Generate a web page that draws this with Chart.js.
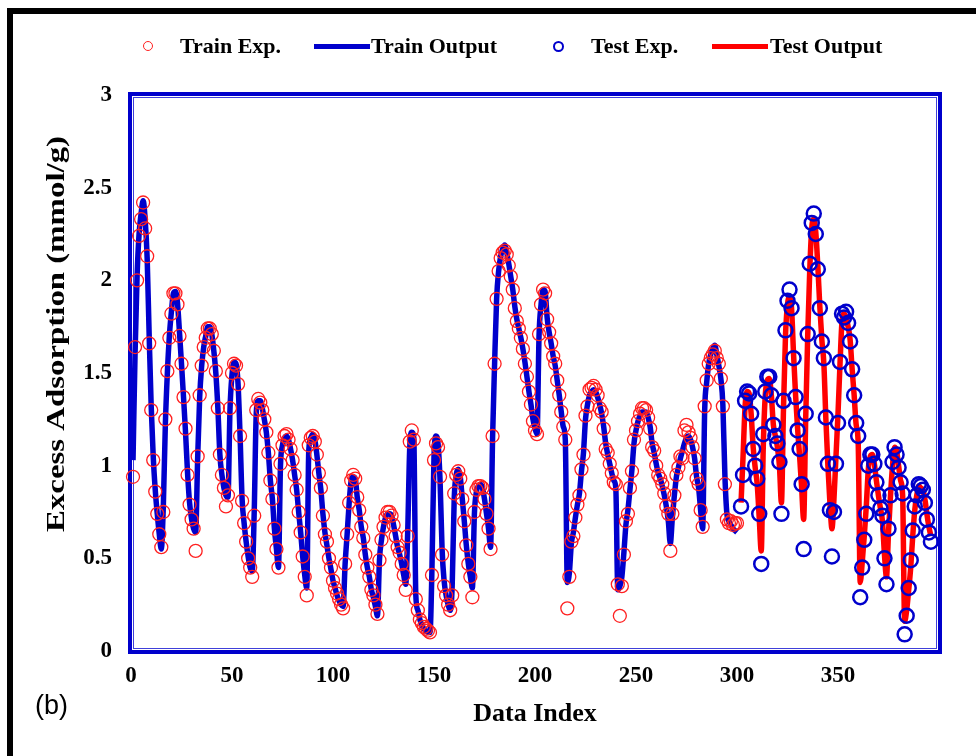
<!DOCTYPE html>
<html>
<head>
<meta charset="utf-8">
<title>Excess Adsorption vs Data Index</title>
<script src="https://cdn.jsdelivr.net/npm/chart.js@4.4.1/dist/chart.umd.min.js"></script>
<style>
  html, body { margin: 0; padding: 0; background: #fff; }
  #wrap { position: relative; width: 976px; height: 756px; overflow: hidden; }
  #chart { position: absolute; left: 0; top: 0; }
  #frame {
    position: absolute; left: 7px; top: 8px; width: 1000px; height: 800px;
    border-left: 6px solid #000; border-top: 6px solid #000; pointer-events: none;
  }
  .legend-text {
    position: absolute; top: 33px; line-height: 26px; white-space: nowrap;
    font: bold 22px "Liberation Serif", "Times New Roman", serif; color: #000;
  }
  .legend-dot { position: absolute; border-radius: 50%; box-sizing: border-box; }
  .legend-bar { position: absolute; height: 5px; }
  #panel {
    position: absolute; left: 35px; top: 690px; line-height: 32px;
    font: 27px "Liberation Sans", Arial, sans-serif; color: #000;
  }
</style>
</head>
<body>
<div id="wrap">
  <canvas id="chart" width="976" height="756"></canvas>
  <div id="frame"></div>

  <span class="legend-dot" style="left:143px; top:41px; width:10px; height:10px; border:1.5px solid #ff2020;"></span>
  <span class="legend-text" style="left:180px;">Train Exp.</span>
  <span class="legend-bar" style="left:314px; top:44px; width:56px; background:#0000cc;"></span>
  <span class="legend-text" style="left:371px;">Train Output</span>
  <span class="legend-dot" style="left:553px; top:41px; width:11px; height:11px; border:2.5px solid #0000cc;"></span>
  <span class="legend-text" style="left:591px;">Test Exp.</span>
  <span class="legend-bar" style="left:712px; top:44px; width:56px; background:#ff0000;"></span>
  <span class="legend-text" style="left:770px;">Test Output</span>

  <div id="panel">(b)</div>
</div>

<script>
// axis ticks
const xTicks = [0, 50, 100, 150, 200, 250, 300, 350];
const yTicks = [0, 0.5, 1, 1.5, 2, 2.5, 3];
const yTitle = 'Excess Adsorption (mmol/g)';

// training set: first data index and measured / model values
const trainStart = 1;
const trainExp = [
  0.94, 1.64, 2.00, 2.24, 2.33, 2.42, 2.28, 2.13, 1.66, 1.30, 1.03, 0.86, 0.74, 0.63, 0.56,
  0.75, 1.25, 1.51, 1.69, 1.82, 1.93, 1.93, 1.87, 1.70, 1.55, 1.37, 1.20, 0.95, 0.79, 0.71, 0.66, 0.54,
  1.05, 1.38, 1.54, 1.64, 1.69, 1.74, 1.74, 1.71, 1.62, 1.51, 1.31, 1.06, 0.95, 0.88, 0.78, 0.84,
  1.31, 1.50, 1.55, 1.54, 1.44, 1.16, 0.81, 0.69, 0.59, 0.50, 0.45, 0.40,
  0.73, 1.30, 1.36, 1.34, 1.30, 1.25, 1.18, 1.07, 0.92, 0.82, 0.66, 0.55, 0.45,
  1.01, 1.11, 1.16, 1.17, 1.14, 1.09, 1.03, 0.95, 0.87, 0.75, 0.64, 0.51, 0.40, 0.30,
  1.11, 1.15, 1.16, 1.13, 1.06, 0.96, 0.88, 0.73, 0.63, 0.59, 0.50, 0.45, 0.38, 0.34, 0.31, 0.28, 0.25, 0.23,
  0.47, 0.63, 0.80, 0.92, 0.95, 0.93, 0.83, 0.76, 0.67, 0.61, 0.52, 0.45, 0.40, 0.33, 0.30, 0.25, 0.20,
  0.49, 0.60, 0.67, 0.72, 0.75, 0.75, 0.73, 0.68, 0.62, 0.56, 0.53, 0.47, 0.41, 0.33,
  0.62, 1.13, 1.19, 1.14, 0.28, 0.22, 0.17, 0.15, 0.13, 0.12, 0.11, 0.10,
  0.41, 1.03, 1.12, 1.10, 0.94, 0.52, 0.35, 0.30, 0.25, 0.22,
  0.30, 0.85, 0.95, 0.97, 0.93, 0.82, 0.70, 0.57, 0.47, 0.40, 0.29,
  0.75, 0.87, 0.89, 0.89, 0.88, 0.82, 0.74, 0.66, 0.55,
  1.16, 1.55, 1.90, 2.05, 2.12, 2.15, 2.16, 2.14, 2.08, 2.02, 1.95, 1.85, 1.78, 1.74, 1.69, 1.63,
  1.55, 1.48, 1.40, 1.33, 1.24, 1.19, 1.17,
  1.71, 1.87, 1.95, 1.93, 1.79, 1.72, 1.66, 1.59, 1.55, 1.46, 1.38, 1.29, 1.21, 1.14, 0.23, 0.40,
  0.59, 0.62, 0.72, 0.79, 0.84, 0.98, 1.06, 1.27, 1.32, 1.41, 1.42, 1.43, 1.41, 1.38, 1.31, 1.29,
  1.20, 1.09, 1.07, 1.01, 0.96, 0.91, 0.90, 0.36, 0.19,
  0.35, 0.52, 0.70, 0.74, 0.88, 0.97, 1.14, 1.19, 1.24, 1.28, 1.31, 1.31, 1.30, 1.26, 1.20, 1.10,
  1.08, 1.00, 0.95, 0.93, 0.90, 0.85, 0.78, 0.74, 0.54,
  0.74, 0.84, 0.95, 0.99, 1.05, 1.04, 1.19, 1.22, 1.18, 1.15, 1.10, 1.04, 0.93, 0.90, 0.76, 0.67,
  1.32, 1.46, 1.55, 1.58, 1.60, 1.62, 1.58, 1.55, 1.47, 1.32, 0.90, 0.71, 0.69, 0.70, 0.68, 0.69, 0.69
];
const trainOut = [
  1.03, 1.60, 2.02, 2.25, 2.36, 2.43, 2.33, 2.12, 1.70, 1.32, 1.05, 0.87, 0.74, 0.63, 0.55,
  0.78, 1.22, 1.50, 1.70, 1.83, 1.93, 1.94, 1.88, 1.72, 1.55, 1.37, 1.18, 0.96, 0.80, 0.71, 0.66, 0.64,
  1.04, 1.37, 1.54, 1.64, 1.70, 1.75, 1.75, 1.71, 1.62, 1.50, 1.31, 1.06, 0.95, 0.88, 0.84, 0.83,
  1.30, 1.49, 1.56, 1.55, 1.44, 1.16, 0.82, 0.69, 0.59, 0.51, 0.45, 0.43,
  0.75, 1.28, 1.35, 1.35, 1.31, 1.25, 1.18, 1.07, 0.92, 0.82, 0.66, 0.55, 0.45,
  1.00, 1.11, 1.15, 1.16, 1.14, 1.09, 1.03, 0.95, 0.87, 0.75, 0.64, 0.51, 0.41, 0.34,
  1.08, 1.15, 1.17, 1.14, 1.06, 0.96, 0.87, 0.74, 0.64, 0.57, 0.50, 0.44, 0.38, 0.34, 0.30, 0.27, 0.25, 0.24,
  0.47, 0.63, 0.80, 0.92, 0.94, 0.93, 0.83, 0.76, 0.67, 0.61, 0.52, 0.45, 0.40, 0.33, 0.29, 0.24, 0.19,
  0.49, 0.60, 0.67, 0.72, 0.74, 0.74, 0.73, 0.68, 0.62, 0.56, 0.52, 0.47, 0.41, 0.36,
  0.65, 1.10, 1.18, 1.15, 0.30, 0.22, 0.17, 0.14, 0.12, 0.11, 0.10, 0.10,
  0.45, 1.05, 1.16, 1.12, 0.92, 0.55, 0.38, 0.30, 0.25, 0.22,
  0.35, 0.82, 0.95, 0.98, 0.94, 0.82, 0.70, 0.57, 0.47, 0.40, 0.34,
  0.74, 0.86, 0.89, 0.90, 0.88, 0.82, 0.74, 0.66, 0.56,
  1.15, 1.55, 1.90, 2.05, 2.13, 2.17, 2.19, 2.15, 2.09, 2.02, 1.95, 1.86, 1.79, 1.74, 1.69, 1.63,
  1.56, 1.48, 1.40, 1.33, 1.25, 1.20, 1.17,
  1.70, 1.87, 1.95, 1.94, 1.80, 1.72, 1.66, 1.59, 1.54, 1.46, 1.38, 1.29, 1.21, 1.14, 0.37, 0.42,
  0.58, 0.64, 0.72, 0.79, 0.85, 0.97, 1.07, 1.25, 1.33, 1.38, 1.40, 1.41, 1.40, 1.37, 1.33, 1.28,
  1.21, 1.12, 1.06, 1.01, 0.96, 0.92, 0.88, 0.33, 0.35,
  0.40, 0.53, 0.68, 0.76, 0.87, 0.98, 1.12, 1.19, 1.24, 1.27, 1.29, 1.29, 1.29, 1.26, 1.21, 1.12,
  1.07, 1.01, 0.96, 0.93, 0.89, 0.84, 0.78, 0.70, 0.58,
  0.72, 0.84, 0.94, 0.99, 1.04, 1.08, 1.12, 1.15, 1.16, 1.14, 1.10, 1.04, 0.94, 0.88, 0.76, 0.66,
  1.30, 1.45, 1.55, 1.60, 1.63, 1.65, 1.60, 1.54, 1.47, 1.33, 0.95, 0.74, 0.70, 0.68, 0.66, 0.65, 0.64
];

// test set
const testStart = 302;
const testExp = [
  0.78, 0.95, 1.35, 1.40, 1.39, 1.28, 1.09, 1.00, 0.93, 0.74, 0.47,
  1.17, 1.40, 1.48, 1.48, 1.38, 1.22, 1.16, 1.12, 1.02, 0.74,
  1.35, 1.73, 1.89, 1.95, 1.85, 1.58, 1.37, 1.19, 1.09, 0.90, 0.55,
  1.28, 1.71, 2.09, 2.31, 2.36, 2.25, 2.06, 1.85, 1.67, 1.58, 1.26, 1.01, 0.76, 0.51,
  0.75, 1.01, 1.23, 1.56, 1.82, 1.80, 1.83, 1.77, 1.67, 1.52, 1.38, 1.23, 1.16, 0.29,
  0.45, 0.60, 0.74, 1.00, 1.06, 1.06, 1.01, 0.91, 0.84, 0.77, 0.73, 0.50, 0.36,
  0.66, 0.84, 1.02, 1.10, 1.06, 0.99, 0.91, 0.85, 0.09,
  0.19, 0.34, 0.49, 0.65, 0.78, 0.84, 0.90, 0.89, 0.87, 0.80, 0.71, 0.64, 0.59
];
const testOut = [
  0.80, 1.05, 1.32, 1.40, 1.39, 1.28, 1.10, 0.99, 0.90, 0.72, 0.54,
  1.10, 1.38, 1.46, 1.47, 1.38, 1.22, 1.16, 1.10, 1.00, 0.80,
  1.30, 1.70, 1.87, 1.91, 1.85, 1.60, 1.38, 1.20, 1.05, 0.88, 0.71,
  1.25, 1.70, 2.05, 2.28, 2.33, 2.26, 2.08, 1.86, 1.68, 1.55, 1.25, 1.00, 0.80, 0.66,
  0.82, 1.05, 1.28, 1.55, 1.78, 1.82, 1.80, 1.75, 1.68, 1.52, 1.38, 1.22, 1.12, 0.37,
  0.48, 0.62, 0.78, 0.98, 1.05, 1.06, 1.01, 0.92, 0.84, 0.77, 0.70, 0.52, 0.40,
  0.64, 0.84, 1.00, 1.10, 1.08, 1.00, 0.92, 0.84, 0.16,
  0.22, 0.33, 0.45, 0.62, 0.76, 0.84, 0.89, 0.88, 0.87, 0.82, 0.74, 0.67, 0.62
];

function toPoints(values, first) {
  return values.map((v, i) => ({ x: first + i, y: v }));
}

const serif = "'Liberation Serif', 'Times New Roman', serif";
const blue = '#0000cc';
const red = '#ff0000';

// double blue box around the plotting area
const plotFrame = {
  id: 'plotFrame',
  beforeDatasetsDraw(chart) {
    const { ctx, chartArea: { left, top, right, bottom } } = chart;
    ctx.save();
    ctx.strokeStyle = blue;
    ctx.lineWidth = 4;
    ctx.strokeRect(left - 1, top - 1, right - left + 2, bottom - top + 2);
    ctx.strokeStyle = 'rgba(0, 0, 204, 0.75)';
    ctx.lineWidth = 1;
    ctx.strokeRect(left + 2.5, top + 2.5, right - left - 5, bottom - top - 5);
    ctx.restore();
  }
};

// tall, narrow y-axis caption: drawn rotated and stretched along its length
const yCaption = {
  id: 'yCaption',
  afterDraw(chart) {
    const { ctx } = chart;
    ctx.save();
    ctx.font = `bold 25px ${serif}`;
    const natural = ctx.measureText(yTitle).width;
    ctx.translate(58, 334);
    ctx.rotate(-Math.PI / 2);
    ctx.scale(396 / natural, 1);
    ctx.textAlign = 'center';
    ctx.textBaseline = 'middle';
    ctx.fillStyle = '#000';
    ctx.fillText(yTitle, 0, 0);
    ctx.restore();
  }
};

new Chart(document.getElementById('chart'), {
  type: 'scatter',
  data: {
    datasets: [
      {
        label: 'Train Exp.',
        data: toPoints(trainExp, trainStart),
        showLine: false,
        pointStyle: 'circle',
        pointRadius: 6.5,
        pointBorderWidth: 1.3,
        pointBorderColor: '#ff2020',
        pointBackgroundColor: 'rgba(0, 0, 0, 0)',
        clip: 10,
        order: 2
      },
      {
        label: 'Train Output',
        data: toPoints(trainOut, trainStart),
        showLine: true,
        borderColor: blue,
        borderWidth: 5.5,
        pointRadius: 0,
        cubicInterpolationMode: 'monotone',
        order: 3
      },
      {
        label: 'Test Exp.',
        data: toPoints(testExp, testStart),
        showLine: false,
        pointStyle: 'circle',
        pointRadius: 7,
        pointBorderWidth: 2.5,
        pointBorderColor: blue,
        pointBackgroundColor: 'rgba(0, 0, 0, 0)',
        clip: 10,
        order: 0
      },
      {
        label: 'Test Output',
        data: toPoints(testOut, testStart),
        showLine: true,
        borderColor: red,
        borderWidth: 5.5,
        pointRadius: 0,
        cubicInterpolationMode: 'monotone',
        order: 1
      }
    ]
  },
  options: {
    responsive: false,
    animation: false,
    devicePixelRatio: 1,
    layout: { padding: { top: 95, right: 37, left: 0, bottom: 0 } },
    plugins: {
      legend: { display: false },
      tooltip: { enabled: false }
    },
    scales: {
      x: {
        type: 'linear',
        min: 0,
        max: 400,
        grid: { display: false, drawTicks: false },
        border: { display: false },
        afterBuildTicks: scale => { scale.ticks = xTicks.map(v => ({ value: v })); },
        afterFit: scale => { scale.height = 105; },
        ticks: {
          autoSkip: false,
          maxRotation: 0,
          padding: 11,
          color: '#000',
          font: { family: serif, size: 23, weight: 'bold' },
          callback: v => String(v)
        },
        title: {
          display: true,
          text: 'Data Index',
          color: '#000',
          font: { family: serif, size: 26, weight: 'bold' },
          padding: { top: 0, bottom: 26 }
        }
      },
      y: {
        min: 0,
        max: 3,
        grid: { display: false, drawTicks: false },
        border: { display: false },
        afterBuildTicks: scale => { scale.ticks = yTicks.map(v => ({ value: v })); },
        afterFit: scale => { scale.width = 131; },
        ticks: {
          padding: 19,
          color: '#000',
          font: { family: serif, size: 23, weight: 'bold' },
          callback: v => String(v)
        },
        title: { display: false }
      }
    }
  },
  plugins: [plotFrame, yCaption]
});
</script>
</body>
</html>
